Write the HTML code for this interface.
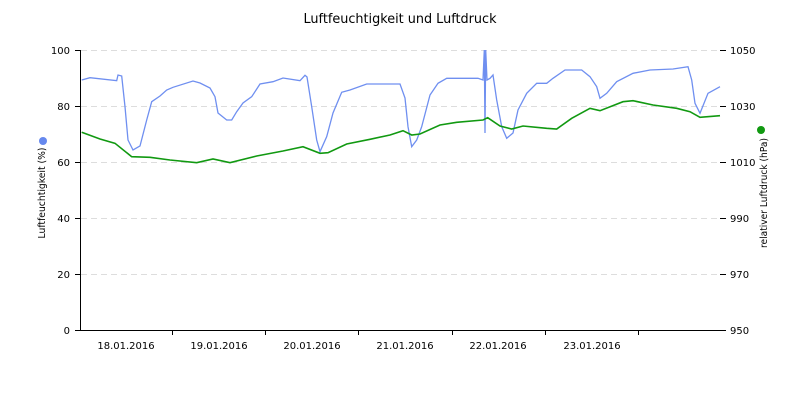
<!DOCTYPE html>
<html><head><meta charset="utf-8"><style>html,body{margin:0;padding:0;background:#fff}svg{display:block}text{font-family:"DejaVu Sans","Liberation Sans",sans-serif;fill:#000}</style></head>
<body>
<svg width="800" height="400" viewBox="0 0 800 400" xmlns="http://www.w3.org/2000/svg">
<text x="400" y="23" font-size="13" text-anchor="middle" textLength="193" lengthAdjust="spacingAndGlyphs">Luftfeuchtigkeit und Luftdruck</text>
<g stroke="#ddd" stroke-dasharray="6,4" stroke-width="1">
<line x1="81" y1="50.5" x2="720" y2="50.5"/><line x1="81" y1="106.5" x2="720" y2="106.5"/><line x1="81" y1="162.5" x2="720" y2="162.5"/><line x1="81" y1="218.5" x2="720" y2="218.5"/><line x1="81" y1="274.5" x2="720" y2="274.5"/>
</g>
<g stroke="#000" stroke-width="1">
<line x1="80.5" y1="50" x2="80.5" y2="330"/>
<line x1="75" y1="330.5" x2="726" y2="330.5"/>
<line x1="75" y1="50.5" x2="80" y2="50.5"/><line x1="75" y1="106.5" x2="80" y2="106.5"/><line x1="75" y1="162.5" x2="80" y2="162.5"/><line x1="75" y1="218.5" x2="80" y2="218.5"/><line x1="75" y1="274.5" x2="80" y2="274.5"/>
<line x1="720" y1="50.5" x2="726" y2="50.5"/><line x1="720" y1="106.5" x2="726" y2="106.5"/><line x1="720" y1="162.5" x2="726" y2="162.5"/><line x1="720" y1="218.5" x2="726" y2="218.5"/><line x1="720" y1="274.5" x2="726" y2="274.5"/>
<line x1="172.5" y1="330" x2="172.5" y2="335"/><line x1="265.5" y1="330" x2="265.5" y2="335"/><line x1="358.5" y1="330" x2="358.5" y2="335"/><line x1="452.5" y1="330" x2="452.5" y2="335"/><line x1="545.5" y1="330" x2="545.5" y2="335"/><line x1="638.5" y1="330" x2="638.5" y2="335"/>
</g>
<g font-size="10" text-anchor="end">
<text x="70" y="54">100</text><text x="70" y="110">80</text><text x="70" y="166">60</text><text x="70" y="222">40</text><text x="70" y="278">20</text><text x="70" y="334">0</text>
</g>
<g font-size="10">
<text x="730" y="54">1050</text><text x="730" y="110">1030</text><text x="730" y="166">1010</text><text x="730" y="222">990</text><text x="730" y="278">970</text><text x="730" y="334">950</text>
</g>
<g font-size="10" text-anchor="middle">
<text x="126" y="349">18.01.2016</text><text x="219" y="349">19.01.2016</text><text x="312" y="349">20.01.2016</text><text x="405" y="349">21.01.2016</text><text x="498" y="349">22.01.2016</text><text x="592" y="349">23.01.2016</text>
</g>
<text font-size="9.5" text-anchor="middle" textLength="91" lengthAdjust="spacingAndGlyphs" transform="translate(45,193) rotate(-90)">Luftfeuchtigkeit (%)</text>
<circle cx="43" cy="141" r="4" fill="#6688ee"/>
<text font-size="9.5" text-anchor="middle" textLength="110" lengthAdjust="spacingAndGlyphs" transform="translate(767,193) rotate(-90)">relativer Luftdruck (hPa)</text>
<circle cx="761" cy="130" r="4" fill="#119911"/>
<polyline fill="none" stroke="#6f8ff0" stroke-width="1.3" points="81.7,80 90,77.7 116.7,80.7 118,75 121.7,76 125,106.7 128,140 133,150 140,146 146.7,120 151.7,101.7 160,96 166.7,90 173,87.3 193,81 200,83 210,88 215,96.7 218,113 226.7,120 231.7,120 236.7,111.7 243,103 251.7,96.7 260,84 273,81.7 283,78 300,80.7 305,75.3 307,77 311.7,106.7 316.7,140 320,151.7 326.7,136.7 333,113 341.7,92.3 350,90 366.7,84 400,84 405,98 408,126.7 411.7,146.7 416.7,140 421.7,126.7 430,95 438,83.3 446.7,78.3 478,78.3 483,80 484.3,50 485,133 485.7,50 487,80 490,78.3 493,75 496.7,100 501.7,126.7 506.7,138.3 513,133 518,110 526.7,93.3 536.7,83.3 546.7,83.3 553,78.3 565,70 581.7,70 590,76.7 596.7,86.7 600,98.3 606.7,93.3 616.7,81.7 633,73.3 650,70 673,69 688,66.7 691.7,80 695,103.3 700,113.3 708,93.3 720,86.7"/>
<polyline fill="none" stroke="#119911" stroke-width="1.6" points="81.7,132.3 100,139 115,143.3 131.7,156.7 150,157.3 170,160 196.7,162.7 213,159 230,162.7 256.7,156 283,151 303,146.7 320,153.3 328,152.7 346.7,144 370,139.3 390,135 403,130.7 411.7,135 420,134 440,125 456.7,122.3 483,120 487.7,117.7 500,126 511.7,129 523,126 546.7,128.3 556.7,129 571.7,118.3 590,108.3 600,110.7 623,101.7 633,100.7 653,105 676.7,108.3 690,111.7 700,117.3 720,115.7"/>
</svg>
</body></html>
